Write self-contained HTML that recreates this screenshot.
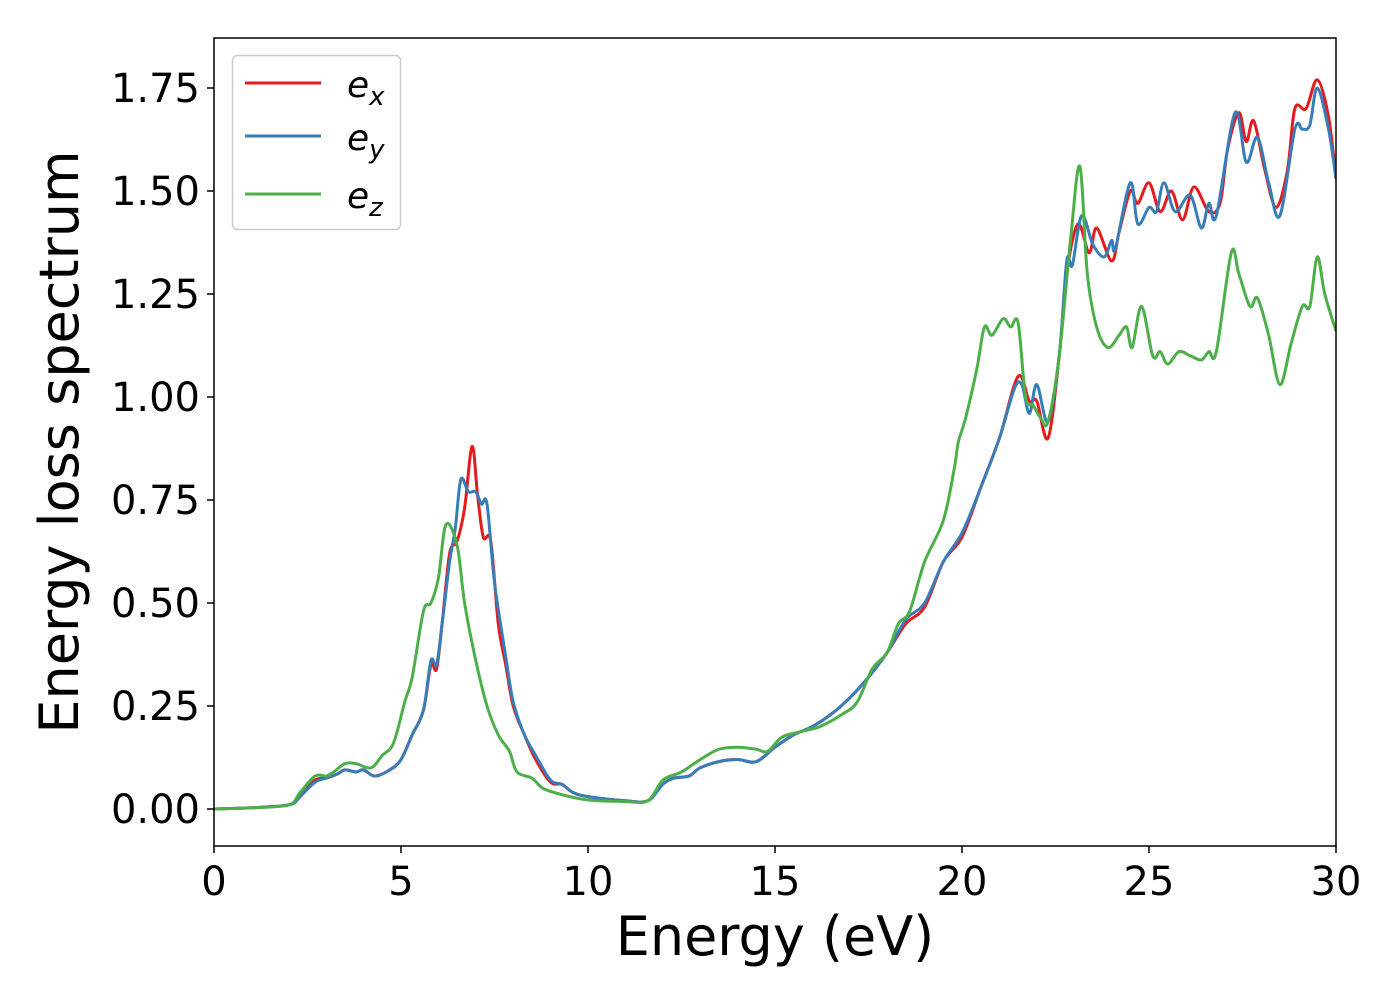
<!DOCTYPE html>
<html><head><meta charset="utf-8"><style>
html,body{margin:0;padding:0;background:#fff;}
svg text{font-family:"DejaVu Sans","Liberation Sans",sans-serif;fill:#000;}
</style></head><body>
<svg id="chart" width="1400" height="1000" viewBox="0 0 1400 1000" xmlns="http://www.w3.org/2000/svg">
<rect width="1400" height="1000" fill="#fff"/>
<g id="series"></g>
<rect x="214" y="38" width="1122" height="808" fill="none" stroke="#000" stroke-width="1.5"/>
<g id="xticks"></g>
<g id="yticks"></g>
<text x="775" y="955" font-size="54" text-anchor="middle">Energy (eV)</text>
<text transform="translate(78,442) rotate(-90)" font-size="54" text-anchor="middle">Energy loss spectrum</text>
<g>
<rect x="232.5" y="55.5" width="168" height="174" rx="5" fill="#fff" fill-opacity="0.8" stroke="#ccc" stroke-width="1.5"/>
<line x1="245" y1="83" x2="321" y2="83" stroke="#e41a1c" stroke-width="3"/>
<text x="347" y="97" font-size="36" font-style="italic">e<tspan font-size="26" dy="8">x</tspan></text>
<line x1="245" y1="136" x2="321" y2="136" stroke="#377eb8" stroke-width="3"/>
<text x="347" y="150" font-size="36" font-style="italic">e<tspan font-size="26" dy="8">y</tspan></text>
<line x1="245" y1="194" x2="321" y2="194" stroke="#4daf4a" stroke-width="3"/>
<text x="347" y="208" font-size="36" font-style="italic">e<tspan font-size="26" dy="8">z</tspan></text>
</g>
</svg>
<script>
const xTicks=[0,5,10,15,20,25,30];
const yTicks=[0,0.25,0.5,0.75,1.0,1.25,1.5,1.75];
const yTickLabels=["0.00","0.25","0.50","0.75","1.00","1.25","1.50","1.75"];
const exE=[0,1,2,2.3,2.7,3,3.3,3.5,3.8,4,4.3,4.7,5,5.3,5.6,5.8,5.95,6.1,6.3,6.5,6.7,6.9,7.05,7.2,7.4,7.6,7.8,8,8.3,8.6,9,9.3,9.6,10,11,11.6,12,12.3,12.7,13,13.5,14,14.5,15,15.5,16,16.5,17,17.5,18,18.5,19,19.5,20,20.5,21,21.5,21.8,22,22.3,22.6,22.8,23.1,23.4,23.6,24,24.2,24.5,24.7,25,25.3,25.6,25.9,26.2,26.6,26.9,27.1,27.4,27.6,27.8,28.1,28.4,28.7,28.9,29.2,29.5,29.8,30];
const exV=[0,0.003,0.01,0.03,0.07,0.075,0.085,0.095,0.09,0.095,0.08,0.095,0.12,0.18,0.24,0.35,0.34,0.45,0.62,0.65,0.73,0.88,0.76,0.66,0.65,0.45,0.35,0.25,0.18,0.12,0.065,0.06,0.04,0.03,0.02,0.02,0.06,0.075,0.08,0.1,0.115,0.12,0.115,0.15,0.18,0.2,0.23,0.27,0.32,0.38,0.45,0.49,0.6,0.66,0.78,0.9,1.05,0.99,0.99,0.9,1.1,1.3,1.42,1.35,1.41,1.33,1.4,1.5,1.47,1.52,1.45,1.5,1.43,1.51,1.45,1.47,1.6,1.69,1.62,1.67,1.55,1.46,1.55,1.7,1.7,1.77,1.68,1.53];
const eyE=[0,1,2,2.3,2.7,3,3.3,3.5,3.8,4,4.3,4.7,5,5.3,5.6,5.8,5.95,6.1,6.3,6.45,6.6,6.8,7.0,7.15,7.3,7.5,7.8,8,8.3,8.6,9,9.3,9.6,10,11,11.6,12,12.3,12.7,13,13.5,14,14.5,15,15.5,16,16.5,17,17.5,18,18.5,19,19.5,20,20.5,21,21.4,21.6,21.8,22,22.3,22.6,22.8,22.95,23.2,23.5,23.8,24,24.1,24.5,24.7,25,25.2,25.4,25.7,26.1,26.4,26.6,26.8,27.3,27.6,27.9,28.2,28.5,28.9,29.1,29.3,29.5,29.8,30];
const eyV=[0,0.003,0.01,0.03,0.065,0.075,0.085,0.095,0.09,0.095,0.08,0.095,0.12,0.18,0.24,0.36,0.35,0.45,0.6,0.68,0.8,0.77,0.77,0.74,0.74,0.55,0.37,0.26,0.18,0.13,0.07,0.06,0.04,0.03,0.02,0.02,0.06,0.075,0.08,0.1,0.115,0.12,0.115,0.15,0.18,0.2,0.23,0.27,0.32,0.38,0.46,0.5,0.6,0.67,0.78,0.9,1.02,1.03,0.96,1.03,0.94,1.1,1.33,1.32,1.44,1.37,1.34,1.38,1.36,1.52,1.42,1.46,1.45,1.52,1.45,1.49,1.41,1.47,1.44,1.69,1.57,1.63,1.52,1.44,1.65,1.65,1.66,1.75,1.65,1.53];
const ezE=[0,1,2,2.3,2.7,3,3.2,3.5,3.8,4.2,4.5,4.8,5.1,5.3,5.6,5.8,6.0,6.2,6.5,6.7,7,7.3,7.6,7.9,8.1,8.5,8.8,9.3,10,11,11.6,12,12.5,13,13.5,14,14.5,14.8,15.2,15.8,16.2,16.8,17.2,17.6,18,18.3,18.6,19,19.5,19.8,19.9,20.1,20.4,20.6,20.8,21.1,21.3,21.5,21.7,21.9,22.1,22.3,22.6,22.9,23.15,23.35,23.6,23.9,24.2,24.4,24.55,24.8,25.1,25.3,25.5,25.8,26.1,26.4,26.6,26.8,27.2,27.4,27.7,27.9,28.2,28.5,28.8,29.1,29.3,29.5,29.7,30];
const ezV=[0,0.003,0.01,0.04,0.08,0.08,0.09,0.11,0.11,0.1,0.13,0.16,0.26,0.32,0.48,0.5,0.56,0.69,0.64,0.5,0.36,0.25,0.18,0.14,0.09,0.075,0.05,0.035,0.022,0.018,0.02,0.07,0.09,0.12,0.145,0.15,0.145,0.14,0.175,0.19,0.2,0.23,0.26,0.34,0.38,0.45,0.48,0.6,0.7,0.83,0.89,0.95,1.07,1.17,1.15,1.19,1.17,1.18,1.0,0.98,0.95,0.94,1.1,1.38,1.56,1.3,1.17,1.12,1.15,1.17,1.12,1.22,1.1,1.11,1.08,1.11,1.1,1.09,1.11,1.11,1.35,1.3,1.22,1.24,1.15,1.03,1.13,1.22,1.22,1.34,1.25,1.16];

const X0=214,X1=1336,Y0=809,YS=412;
function xs(e){return X0+(X1-X0)*e/30;}
function ys(v){return Y0-YS*v;}
const NS="http://www.w3.org/2000/svg";
function smoothPath(E,V){
  const p=E.map((e,i)=>[xs(e),ys(V[i])]);
  let d="M"+p[0][0].toFixed(2)+","+p[0][1].toFixed(2);
  for(let i=0;i<p.length-1;i++){
    const a=p[Math.max(i-1,0)],b=p[i],c=p[i+1],n=p[Math.min(i+2,p.length-1)];
    const c1=[b[0]+(c[0]-a[0])/6,b[1]+(c[1]-a[1])/6];
    const c2=[c[0]-(n[0]-b[0])/6,c[1]-(n[1]-b[1])/6];
    d+=" C"+c1[0].toFixed(2)+","+c1[1].toFixed(2)+" "+c2[0].toFixed(2)+","+c2[1].toFixed(2)+" "+c[0].toFixed(2)+","+c[1].toFixed(2);
  }
  return d;
}
const sg=document.getElementById("series");
const clip=document.createElementNS(NS,"clipPath");clip.setAttribute("id","pc");
const cr=document.createElementNS(NS,"rect");cr.setAttribute("x",X0);cr.setAttribute("y",38);cr.setAttribute("width",X1-X0);cr.setAttribute("height",808);
clip.appendChild(cr);sg.appendChild(clip);
function addLine(E,V,col,name){
  const p=document.createElementNS(NS,"path");
  
  
  p.setAttribute("d",smoothPath(E,V));p.setAttribute("fill","none");p.setAttribute("stroke",col);
  p.setAttribute("stroke-width","3");p.setAttribute("stroke-linejoin","round");p.setAttribute("clip-path","url(#pc)");
  sg.appendChild(p);
}
addLine(exE,exV,"#e41a1c","series-ex");
addLine(eyE,eyV,"#377eb8","series-ey");
addLine(ezE,ezV,"#4daf4a","series-ez");

const xg=document.getElementById("xticks");
xTicks.forEach(t=>{
  const l=document.createElementNS(NS,"line");
  
  
  l.setAttribute("x1",xs(t));l.setAttribute("x2",xs(t));l.setAttribute("y1",846);l.setAttribute("y2",853);l.setAttribute("stroke","#000");l.setAttribute("stroke-width","1.5");
  xg.appendChild(l);
  const tx=document.createElementNS(NS,"text");
  
  
  tx.setAttribute("x",xs(t));tx.setAttribute("y",895);tx.setAttribute("font-size","40");tx.setAttribute("text-anchor","middle");
  tx.textContent=String(t);xg.appendChild(tx);
});
const yg=document.getElementById("yticks");
yTicks.forEach((t,i)=>{
  const l=document.createElementNS(NS,"line");
  
  
  l.setAttribute("x1",207);l.setAttribute("x2",214);l.setAttribute("y1",ys(t));l.setAttribute("y2",ys(t));l.setAttribute("stroke","#000");l.setAttribute("stroke-width","1.5");
  yg.appendChild(l);
  const tx=document.createElementNS(NS,"text");
  
  
  tx.setAttribute("x",200);tx.setAttribute("y",ys(t)+14);tx.setAttribute("font-size","40");tx.setAttribute("text-anchor","end");
  tx.textContent=yTickLabels[i];yg.appendChild(tx);
});
</script>
</body></html>
